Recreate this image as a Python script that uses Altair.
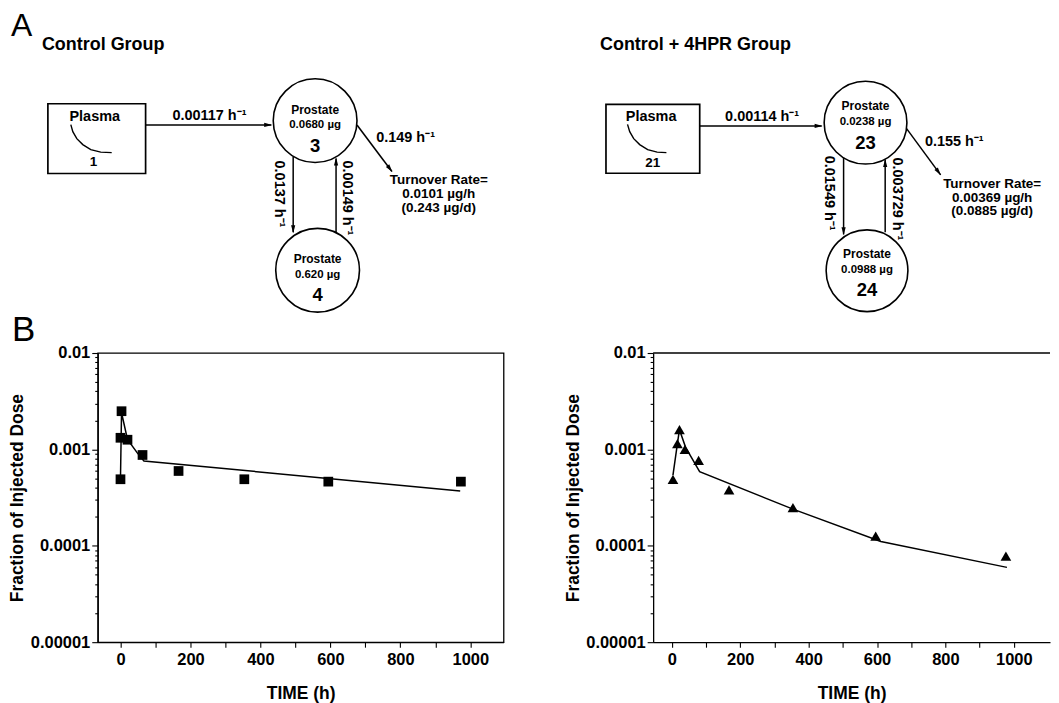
import altair as alt
import pandas as pd

FONT = "Liberation Sans, Arial, Helvetica, sans-serif"

# ---------------- Panel B data ----------------
ctrl_time = [0, 0, 3, 20, 63, 166, 354, 594, 973]
ctrl_frac = [0.00049, 0.00132, 0.00249, 0.00126, 0.000875, 0.000597, 0.00049, 0.000463, 0.000463]
ctrl_fit_time = [0, 3, 20, 48, 67, 971]
ctrl_fit_frac = [0.00050, 0.0024, 0.00127, 0.00092, 0.000758, 0.000371]

hpr_time = [3, 16, 22, 38, 78, 167, 354, 596, 977]
hpr_frac = [0.00049, 0.00115, 0.0016, 0.00100, 0.00077, 0.00038, 0.000249, 0.000126, 0.000078]
hpr_fit_time = [3, 16, 22, 40, 81, 354, 611, 980]
hpr_fit_frac = [0.00054, 0.00115, 0.0016, 0.00105, 0.000587, 0.00024, 0.000111, 0.0000597]

x_tick_values = [0, 100, 200, 300, 400, 500, 600, 700, 800, 900, 1000]
y_major_values = [0.00001, 0.0001, 0.001, 0.01]
y_major_labels = ["0.00001", "0.0001", "0.001", "0.01"]
y_minor_mult = [2, 3, 4, 5, 6, 7, 8, 9]

# ---------------- Panel A text ----------------
group_titles = ["Control Group", "Control + 4HPR Group"]
rate_labels = ["0.00117 h⁻¹", "0.149 h⁻¹", "0.00114 h⁻¹", "0.155 h⁻¹"]
vert_rate_labels = ["0.0137 h⁻¹", "0.00149 h⁻¹", "0.01549 h⁻¹", "0.003729 h⁻¹"]
compartment_labels = ["1", "3", "4", "21", "23", "24"]
mass_labels = ["0.0680 µg", "0.620 µg", "0.0238 µg", "0.0988 µg"]
turnover_left = ["Turnover Rate=", "0.0101 µg/h", "(0.243 µg/d)"]
turnover_right = ["Turnover Rate=", "0.00369 µg/h", "(0.0885 µg/d)"]

# ---------------- Panel A layout (page pixel positions) ----------------
box_x = [48, 607.7]; box_x2 = [146, 701.7]; box_y = [102, 102.7]; box_y2 = [172, 171.7]
curve_left_xy = [(71, 123), (73, 130), (77, 137), (83, 143), (91, 148), (101, 150.5), (112, 151)]
curve_right_xy = [(629.3, 122.7), (631.5, 130), (635.5, 137), (641.5, 143), (649.5, 148), (659, 150.5), (668.3, 151)]
circle_xyr = [(316, 119, 42), (318.5, 269, 42), (868, 121, 41.5), (869.5, 269.5, 41)]
shafts = [(146, 123.3, 272, 123.3), (294, 155, 294, 231), (337, 231, 337, 157), (358, 123.3, 393, 170),
          (701.7, 124.3, 824, 124.3), (846, 156, 846, 233), (887.7, 231, 887.7, 158), (909, 126.7, 943.3, 173.3)]
heads = [(273, 123.3, 90), (294, 232, 180), (337, 156, 0), (393.5, 170.5, 143),
         (825, 124.3, 90), (846, 234, 180), (887.7, 157.5, 0), (943.6, 173.7, 143.6)]

XD = [98, 1053]
YD = [338, 8]
PX = alt.X("x:Q", scale=alt.Scale(domain=XD, nice=False, zero=False), axis=None)
PY = alt.Y("y:Q", scale=alt.Scale(domain=YD, nice=False, zero=False), axis=None)

backdrop = alt.Chart(pd.DataFrame({"x": [8], "x2": [1053], "y": [8], "y2": [330]})).mark_rect(
    fill="white", strokeOpacity=0).encode(x=PX, x2="x2:Q", y=PY, y2="y2:Q")

boxes = alt.Chart(pd.DataFrame({"x": box_x, "x2": box_x2, "y": box_y, "y2": box_y2})).mark_rect(
    fill="transparent", stroke="black", strokeWidth=1.7).encode(x=PX, x2="x2:Q", y=PY, y2="y2:Q")

crv_rows = []
for g, pts in enumerate([curve_left_xy, curve_right_xy]):
    for i, (cx, cy) in enumerate(pts):
        crv_rows.append({"x": cx, "y": cy, "g": g, "o": i})
curves = alt.Chart(pd.DataFrame(crv_rows)).mark_line(color="black", strokeWidth=1.4).encode(
    x=PX, y=PY, detail="g:N", order="o:Q")

circ = alt.Chart(pd.DataFrame(circle_xyr, columns=["x", "y", "r"])).transform_calculate(
    s="4*datum.r*datum.r").mark_point(shape="circle", filled=False, color="black", strokeWidth=1.6,
                                      opacity=1).encode(x=PX, y=PY, size=alt.Size("s:Q", scale=None))

rules = alt.Chart(pd.DataFrame(shafts, columns=["x", "y", "x2", "y2"])).mark_rule(
    color="black", strokeWidth=1.5).encode(x=PX, y=PY, x2="x2:Q", y2="y2:Q")

arrowheads = alt.Chart(pd.DataFrame(heads, columns=["x", "y", "a"])).mark_point(
    shape="M0,0L-0.6,2.3L0.6,2.3Z", filled=True, color="black", size=49, opacity=1, strokeWidth=0
).encode(x=PX, y=PY, angle=alt.Angle("a:Q", scale=None))

ctext = [
    ("Plasma", 95, 119, 14.5), (compartment_labels[0], 93.7, 164, 13.5), (rate_labels[0], 210, 118.3, 14.5),
    ("Prostate", 316, 112, 12), (mass_labels[0], 316, 126.5, 11.5), (compartment_labels[1], 316, 150, 18.5),
    ("Prostate", 318.5, 262, 12), (mass_labels[1], 318.5, 277, 11.5), (compartment_labels[2], 318.5, 300, 18.5),
    (rate_labels[1], 406.7, 140, 14.5),
    (turnover_left[0], 440, 183, 13.5), (turnover_left[1], 440, 197, 13.5), (turnover_left[2], 440, 211, 13.5),
    ("Plasma", 653, 119, 14.5), (compartment_labels[3], 654.5, 165, 13.5), (rate_labels[2], 764.3, 119, 14.5),
    ("Prostate", 868, 108.5, 12), (mass_labels[2], 868, 123.5, 11.5), (compartment_labels[4], 868, 147, 18.5),
    ("Prostate", 869.5, 257, 12), (mass_labels[3], 869.5, 272, 11.5), (compartment_labels[5], 869.5, 295, 18.5),
    (rate_labels[3], 957, 144, 14.5),
    (turnover_right[0], 995, 187, 13.5), (turnover_right[1], 995, 200.5, 13.5), (turnover_right[2], 995, 214, 13.5),
]
text_center = alt.Chart(pd.DataFrame(ctext, columns=["t", "x", "y", "fs"])).mark_text(
    align="center", baseline="alphabetic", fontWeight="bold", font=FONT, color="black").encode(
    x=PX, y=PY, text="t:N", size=alt.Size("fs:Q", scale=None))

vtext = [(vert_rate_labels[0], 279.5, 192.5), (vert_rate_labels[1], 348, 196.5),
         (vert_rate_labels[2], 831.7, 191.7), (vert_rate_labels[3], 900, 197.5)]
text_vert = alt.Chart(pd.DataFrame(vtext, columns=["t", "x", "y"])).mark_text(
    align="center", baseline="middle", fontWeight="bold", font=FONT, color="black", angle=90,
    fontSize=14.5).encode(x=PX, y=PY, text="t:N")

ttext = [(group_titles[0], 42, 48.5), (group_titles[1], 601.7, 48.3)]
text_titles = alt.Chart(pd.DataFrame(ttext, columns=["t", "x", "y"])).mark_text(
    align="left", baseline="alphabetic", fontWeight="bold", font=FONT, color="black",
    fontSize=18).encode(x=PX, y=PY, text="t:N")

ltext = [("A", 11, 34, 32), ("B", 12, 340, 35)]
text_letters = alt.Chart(pd.DataFrame(ltext, columns=["t", "x", "y", "fs"])).mark_text(
    align="left", baseline="alphabetic", fontWeight="normal", font=FONT, color="black").encode(
    x=PX, y=PY, text="t:N", size=alt.Size("fs:Q", scale=None))

top = alt.layer(backdrop, boxes, curves, circ, rules, arrowheads, text_center, text_vert,
                text_titles, text_letters).properties(width=XD[1] - XD[0], height=YD[0] - YD[1])

# ---------------- Panel B charts ----------------
y_tick_values = []
for v in y_major_values[:-1]:
    y_tick_values.append(v)
    for m in y_minor_mult:
        y_tick_values.append(m * v)
y_tick_values.append(y_major_values[-1])

label_expr = " : ".join(
    f"abs(datum.value - {v!r}) < {v * 1e-3!r} ? '{lab}'" for v, lab in zip(y_major_values, y_major_labels)
) + " : ''"
decade_test = "abs(log(datum.value)/LN10 - round(log(datum.value)/LN10)) < 0.001"

PH = 290


def make_plot(times, fracs, fit_t, fit_f, marker, xdom, width, boxed):
    pts = pd.DataFrame({"t": times, "v": fracs})
    fit = pd.DataFrame({"t": fit_t, "v": fit_f, "o": list(range(len(fit_t)))})
    xe = alt.X("t:Q", scale=alt.Scale(domain=xdom, nice=False, zero=False),
               axis=alt.Axis(values=x_tick_values, format="d",
                             labelExpr="datum.value % 200 == 0 ? datum.label : ''",
                             tickSize=5, labelPadding=12, labelBaseline="middle",
                             title="TIME (h)", titleX=width / 2, titleY=51,
                             titleAlign="center", titleBaseline="middle"))
    ye = alt.Y("v:Q", scale=alt.Scale(type="log", domain=[1e-5, 1e-2], nice=False),
               axis=alt.Axis(values=y_tick_values, labelExpr=label_expr,
                             tickSize={"condition": {"test": decade_test, "value": 6}, "value": 3},
                             labelPadding=2, title="Fraction of Injected Dose",
                             titleX=-80, titleY=PH / 2, titleAngle=-90,
                             titleAlign="center", titleBaseline="middle"))
    line = alt.Chart(fit).mark_line(color="black", strokeWidth=1.5).encode(x=xe, y=ye, order="o:Q")
    if marker == "square":
        mk = alt.Chart(pts).mark_square(color="black", size=95, opacity=1).encode(x=xe, y=ye)
    else:
        mk = alt.Chart(pts).mark_point(shape="triangle-up", filled=True, color="black", size=115,
                                       opacity=1).encode(x=xe, y=ye)
    layers = [line, mk]
    props = dict(width=width, height=PH)
    if boxed:
        props["view"] = alt.ViewBackground(stroke="black", strokeWidth=1.3)
    else:
        toprule = alt.Chart(pd.DataFrame({"v": [y_major_values[-1]]})).mark_rule(
            color="black", strokeWidth=1.3).encode(y=ye)
        layers.append(toprule)
    return alt.layer(*layers).properties(**props)


left = make_plot(ctrl_time, ctrl_frac, ctrl_fit_time, ctrl_fit_frac, "square", [-65, 1095], 407, True)
right = make_plot(hpr_time, hpr_frac, hpr_fit_time, hpr_fit_frac, "triangle", [-55, 1106], 398, False)

bottom = alt.hconcat(left, right, spacing=150, bounds="flush")

chart = alt.vconcat(top, bottom, spacing=14, bounds="flush").properties(
    padding=0, background="white"
).configure(font=FONT).configure_view(stroke=None).configure_axis(
    grid=False, domainColor="black", domainWidth=1.3, tickColor="black", tickWidth=1.1,
    labelColor="black", titleColor="black", labelFont=FONT, titleFont=FONT,
    labelFontWeight="bold", titleFontWeight="bold", labelFontSize=16.5, titleFontSize=17.5
)

chart.save("out.html", embed_options={"renderer": "svg", "actions": False})
